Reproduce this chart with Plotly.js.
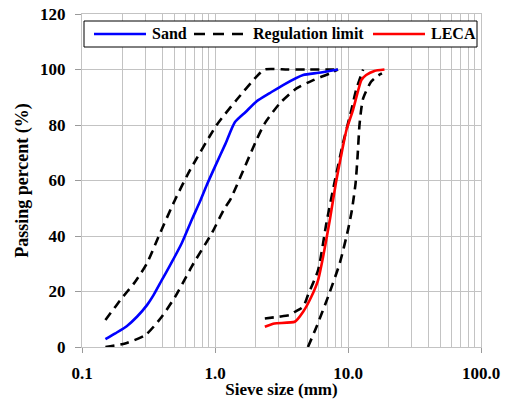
<!DOCTYPE html>
<html>
<head>
<meta charset="utf-8">
<script src="https://cdn.plot.ly/plotly-3.0.1.min.js"></script>
<style>
  html, body { margin: 0; padding: 0; background: #ffffff; }
  #chart { width: 510px; height: 399px; }
</style>
</head>
<body>
<div id="chart"></div>
<script>
// Grading curves: sieve size (mm) vs. passing percent (%)
const sandSize = [0.15, 0.178, 0.218, 0.259, 0.308, 0.345, 0.398, 0.46, 0.562, 0.668, 0.772, 0.866, 1.0, 1.2, 1.41, 1.7, 2.05, 2.58, 3.25, 4.6, 6.0, 8.4];
const sandPass = [2.8, 4.9, 7.6, 10.9, 15.1, 18.7, 24.1, 29.5, 37.4, 45.8, 52.5, 58.3, 65, 73.3, 81, 84.7, 88.5, 91.5, 94.4, 98, 98.8, 100];

const sandUpperSize = [0.15, 0.194, 0.251, 0.308, 0.376, 0.5, 0.65, 1.03, 1.45, 2.05, 2.36, 3.5, 5.0, 8.4];
const sandUpperPass = [9.7, 16.9, 23.5, 30.2, 39.7, 53, 63.8, 80, 89, 97.4, 100, 100, 100, 100];

const sandLowerSize = [0.15, 0.211, 0.3, 0.398, 0.5, 0.6, 0.668, 0.946, 1.18, 1.3, 2.05, 2.36, 3.07, 4.1, 5.5, 7.3, 8.4];
const sandLowerPass = [0, 1.3, 4.3, 10.9, 18, 24.8, 29, 41, 50, 53, 74.6, 80.5, 87.8, 93.2, 96.2, 98.6, 100];

const lecaSize = [2.37, 2.8, 3.98, 4.6, 5.3, 5.96, 6.5, 7.3, 8.1, 8.8, 9.73, 10.9, 12.6, 13.7, 15.8, 18.8];
const lecaPass = [7.3, 8.5, 9.1, 12.7, 18.1, 24.1, 32.5, 45.8, 59, 68, 78.2, 85.4, 96.2, 98, 99.5, 100];

const lecaUpperSize = [2.37, 3.0, 3.65, 4.0, 4.6, 5.0, 5.96, 6.9, 7.94, 9.17, 10.6, 11.5, 13.0];
const lecaUpperPass = [10.3, 10.9, 11.5, 12.7, 14.5, 18.7, 27.7, 45, 59.6, 73.4, 85.4, 92.6, 100];

const lecaLowerSize = [5.0, 5.8, 7.08, 8.67, 10.0, 10.7, 11.4, 11.8, 12.2, 12.6, 13.0, 14.9, 16.8, 18.0];
const lecaLowerPass = [0, 7.3, 18.1, 30.2, 42.2, 49.4, 59, 68.6, 80, 86, 89.6, 95.6, 97.8, 98.6];

const xTickVals = [0.1, 1, 10, 100];
const xTickText = ['0.1', '1.0', '10.0', '100.0'];
const legendNames = ['Sand', 'Regulation limit', 'LECA'];

const serif = 'Liberation Serif';
const gridColor = '#c3c3c3';
const dashPattern = '9px,6px';

// minor grid positions (2..9 in each decade)
const minorVals = [];
for (let d = 0.1; d < 100; d *= 10) {
  for (let k = 2; k <= 9; k++) minorVals.push(+(k * d).toPrecision(3));
}

const limitLine = {color: '#000000', width: 2.6, dash: dashPattern, shape: 'spline', smoothing: 0.6};
const traces = [
  {x: sandUpperSize, y: sandUpperPass, mode: 'lines', line: limitLine, hoverinfo: 'skip'},
  {x: sandLowerSize, y: sandLowerPass, mode: 'lines', line: limitLine, hoverinfo: 'skip'},
  {x: lecaUpperSize, y: lecaUpperPass, mode: 'lines', line: limitLine, hoverinfo: 'skip'},
  {x: lecaLowerSize, y: lecaLowerPass, mode: 'lines', line: limitLine, hoverinfo: 'skip'},
  {x: sandSize, y: sandPass, mode: 'lines', line: {color: '#0000ff', width: 2.6, shape: 'spline', smoothing: 0.6}, name: legendNames[0]},
  {x: lecaSize, y: lecaPass, mode: 'lines', line: {color: '#ff0000', width: 2.6, shape: 'spline', smoothing: 0.5}, name: legendNames[2]}
];

// plot-area geometry in pixels, used to place the legend box
const M = {l: 82, r: 29, t: 14, b: 52};
const W = 510, H = 399;
const pw = W - M.l - M.r, ph = H - M.t - M.b;
const px = v => (v - M.l) / pw;
const py = v => (H - M.b - v) / ph;

const legendY = py(34);
const legendFont = {family: serif, size: 16, color: '#000', weight: 'bold'};
const shapes = [
  {type: 'rect', xref: 'paper', yref: 'paper', x0: px(84), x1: px(477), y0: py(47), y1: py(21),
   fillcolor: '#ffffff', line: {color: '#000000', width: 1}, layer: 'above'},
  {type: 'line', xref: 'paper', yref: 'paper', x0: px(94), x1: px(146), y0: legendY, y1: legendY,
   line: {color: '#0000ff', width: 2.6}, layer: 'above'},
  {type: 'line', xref: 'paper', yref: 'paper', x0: px(194), x1: px(250), y0: legendY, y1: legendY,
   line: {color: '#000000', width: 2.6, dash: '11px,8px'}, layer: 'above'},
  {type: 'line', xref: 'paper', yref: 'paper', x0: px(373), x1: px(425), y0: legendY, y1: legendY,
   line: {color: '#ff0000', width: 2.6}, layer: 'above'}
];
const annotations = [
  {xref: 'paper', yref: 'paper', x: px(150), y: legendY, xanchor: 'left', yanchor: 'middle',
   text: legendNames[0], showarrow: false, font: legendFont},
  {xref: 'paper', yref: 'paper', x: px(251), y: legendY, xanchor: 'left', yanchor: 'middle',
   text: legendNames[1], showarrow: false, font: legendFont},
  {xref: 'paper', yref: 'paper', x: px(429), y: legendY, xanchor: 'left', yanchor: 'middle',
   text: legendNames[2], showarrow: false, font: legendFont}
];

const layout = {
  width: W, height: H,
  margin: M,
  paper_bgcolor: '#ffffff', plot_bgcolor: '#ffffff',
  showlegend: false,
  font: {family: serif, color: '#000'},
  xaxis: {
    type: 'log', range: [-1, 2],
    tickmode: 'array', tickvals: xTickVals, ticktext: xTickText,
    ticks: 'outside', ticklen: 5, tickcolor: '#9a9a9a', tickwidth: 1,
    tickfont: {family: serif, size: 17, color: '#000', weight: 'bold'},
    ticklabelstandoff: 6,
    showgrid: true, gridcolor: gridColor, gridwidth: 1,
    minor: {tickmode: 'array', tickvals: minorVals, showgrid: true, gridcolor: gridColor, gridwidth: 1, ticks: ''},
    showline: true, linecolor: gridColor, linewidth: 1, mirror: true,
    zeroline: false,
    title: {text: 'Sieve size (mm)', font: {family: serif, size: 17, color: '#000', weight: 'bold'}, standoff: 2}
  },
  yaxis: {
    range: [0, 120], dtick: 20, tick0: 0,
    ticks: 'outside', ticklen: 6, tickcolor: '#9a9a9a', tickwidth: 1,
    tickfont: {family: serif, size: 17, color: '#000', weight: 'bold'},
    ticklabelstandoff: 6,
    showgrid: true, gridcolor: gridColor, gridwidth: 1,
    showline: true, linecolor: gridColor, linewidth: 1, mirror: true,
    zeroline: false,
    title: {text: 'Passing percent (%)', font: {family: serif, size: 18, color: '#000', weight: 'bold'}, standoff: 6}
  },
  shapes: shapes,
  annotations: annotations
};

Plotly.newPlot('chart', traces, layout, {staticPlot: true, displayModeBar: false});
</script>
</body>
</html>
